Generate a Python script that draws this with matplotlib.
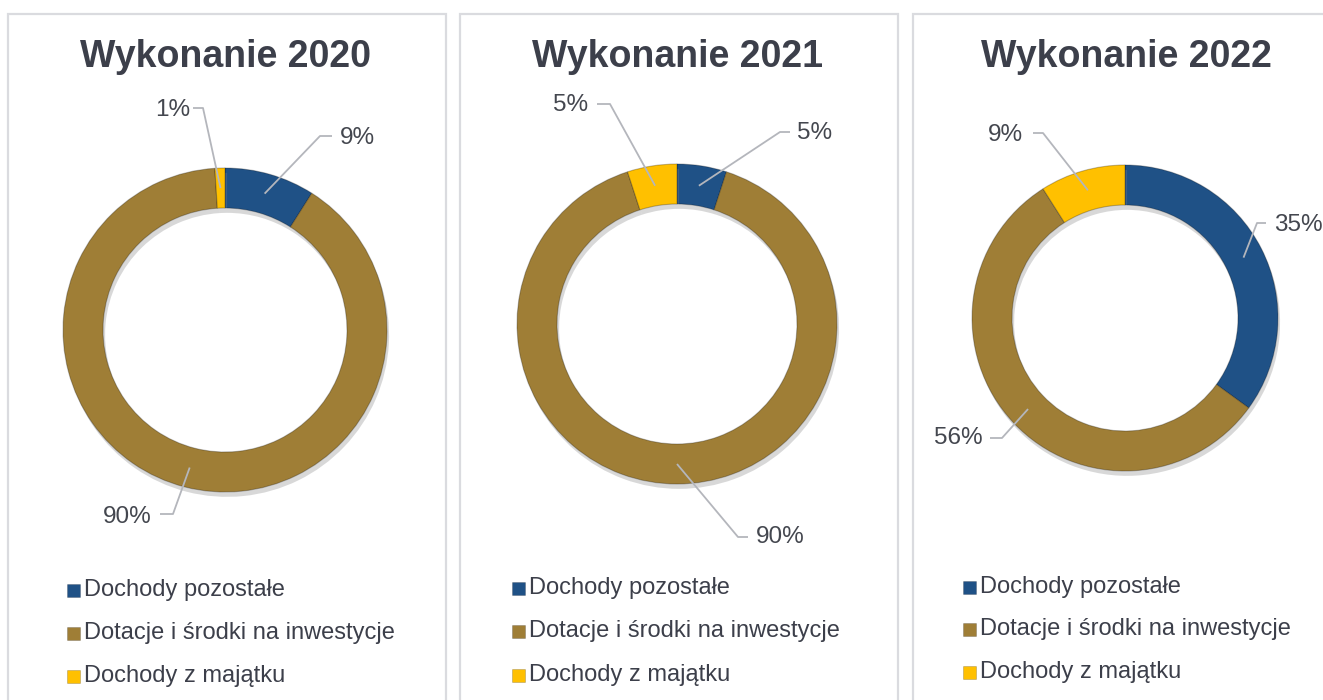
import numpy as np
import matplotlib
matplotlib.use('Agg')
import matplotlib.pyplot as plt
from matplotlib.patches import Rectangle
import matplotlib.patheffects as pe

plt.rcParams['font.family'] = ['Liberation Sans', 'DejaVu Sans']

# data
titles = ['Wykonanie 2020', 'Wykonanie 2021', 'Wykonanie 2022']
categories = ['Dochody pozostałe', 'Dotacje i środki na inwestycje', 'Dochody z majątku']
pozostale = [9, 5, 35]
dotacje = [90, 90, 56]
majatek = [1, 5, 9]

colors = ['#1F5186', '#9F7E36', '#FFC000']
W, H = 1323, 700

# layout in pixels (y from top)
boxes = [(8, 14), (460, 14), (913, 14)]
box_w = 438
centers = [(225, 330), (677, 324), (1125, 318)]
radii = [162, 160, 153]
ring = 40
title_y = 57
# label text position, horizontal attach segment (x_start, x_end, y), alignment
label_layout = [
    [((357, 138), (332, 320, 136), 'center'),
     ((127, 517), (160, 173, 514), 'center'),
     ((173, 110), (193, 203, 108), 'center')],
    [((815, 133), (790, 780, 132), 'center'),
     ((780, 537), (748, 738, 537), 'center'),
     ((571, 105), (597, 610, 104), 'center')],
    [((1274, 225), (1266, 1257, 223), 'left'),
     ((958, 438), (990, 1002, 438), 'center'),
     ((1005, 135), (1033, 1043, 133), 'center')],
]
legend_x = [67, 512, 963]
legend_rows = [[590, 633, 676], [588, 631, 675], [587, 629, 672]]

fy = lambda y: H - y

fig = plt.figure(figsize=(W / 100, H / 100), dpi=100, facecolor='white')
ax = fig.add_axes([0, 0, 1, 1])

text_col = '#3C3F4A'
line_col = '#B4B6BC'

for i in range(3):
    bx, by = boxes[i]
    ax.add_patch(Rectangle((bx, fy(by) - 800), box_w, 800, facecolor='white',
                           edgecolor='#DADBDF', lw=1.6, zorder=0))
    cx, cy = centers[i]
    vals = [pozostale[i], dotacje[i], majatek[i]]
    wedges, _ = ax.pie(vals, colors=colors, radius=radii[i], center=(cx, fy(cy)),
                       startangle=90, counterclock=False,
                       wedgeprops=dict(width=ring, edgecolor=(0, 0, 0, 0.25), linewidth=0.8))
    for w in wedges:
        w.set_path_effects([pe.SimplePatchShadow(offset=(1.5, -3.5), shadow_rgbFace='#808080', alpha=0.3),
                            pe.Normal()])
        w.set_zorder(2)
    ax.text(cx + 1, fy(title_y), titles[i], ha='center', va='center',
            fontsize=27, fontweight='bold', color=text_col)

    rmid = radii[i] - ring / 2
    for j, w in enumerate(wedges):
        ang = np.deg2rad((w.theta1 + w.theta2) / 2)
        px = cx + rmid * np.cos(ang)
        py = fy(cy) + rmid * np.sin(ang)
        (tx, ty), (xs, xe, ly), ha = label_layout[i][j]
        ax.plot([xs, xe, px], [fy(ly), fy(ly), py], color=line_col, lw=1.3,
                zorder=3, solid_capstyle='butt')
        ax.text(tx, fy(ty), f'{vals[j]}%', ha=ha, va='center', fontsize=17.5,
                color='#44474F', zorder=4)

    for j, cat in enumerate(categories):
        ry = legend_rows[i][j]
        ax.add_patch(Rectangle((legend_x[i], fy(ry) - 6.5), 13, 13,
                               facecolor=colors[j], edgecolor=(0, 0, 0, 0.2), lw=0.6))
        ax.text(legend_x[i] + 17, fy(ry), cat, ha='left', va='center',
                fontsize=17, color=text_col)

ax.set_aspect('auto')
ax.set_xlim(0, W)
ax.set_ylim(0, H)
ax.axis('off')

fig.savefig('out.png', dpi=100, facecolor='white')
